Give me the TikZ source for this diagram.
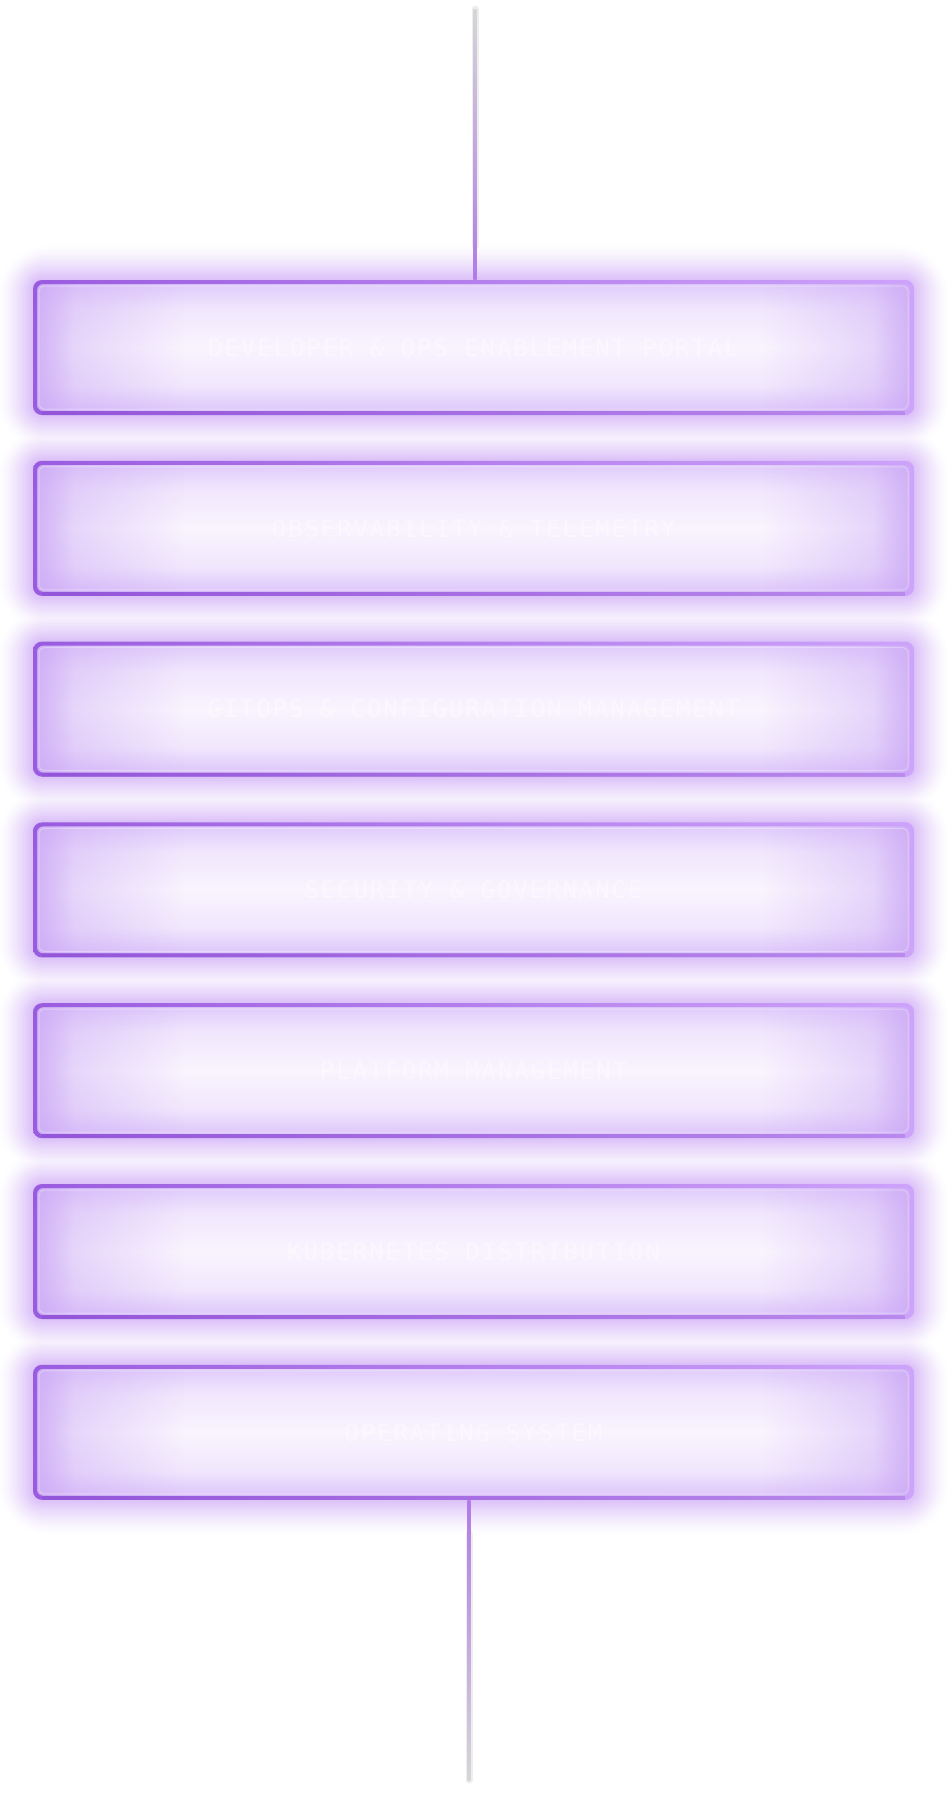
\documentclass[tikz,border=0pt]{standalone}
\usepackage{fontspec}
\newfontfamily\lblfont[LetterSpace=8]{DejaVu Sans Mono}
\usetikzlibrary{calc,fadings}
\definecolor{edgeL}{HTML}{9A5CDF}
\definecolor{edgeR}{HTML}{CEA3FA}
\definecolor{edgeB}{HTML}{7E3FC8}
\definecolor{sidec}{HTML}{CCA9F6}
\definecolor{vtop}{HTML}{DEC7FB}
\definecolor{vbot}{HTML}{DAC0FA}
\definecolor{vmid}{HTML}{F1E7FD}
\definecolor{vcen}{HTML}{F9F4FE}
\definecolor{glowc}{HTML}{B67EF2}
\definecolor{lgray}{HTML}{D6D6D6}
\definecolor{lmid}{HTML}{C29AEE}
\definecolor{lpurp}{HTML}{B17AE8}
\definecolor{halo}{HTML}{EEEEEE}
\pgfdeclareverticalshading{boxv}{100bp}{color(0bp)=(vbot); color(25bp)=(vbot); color(36bp)=(vmid); color(50bp)=(vcen); color(64bp)=(vmid); color(75bp)=(vtop); color(100bp)=(vtop)}
\tikzfading[name=fadeR, left color=transparent!0, right color=transparent!100]
\tikzfading[name=fadeL, left color=transparent!100, right color=transparent!0]
\pgfdeclarelayer{bg}
\pgfdeclarelayer{glowlayer}
\pgfdeclarelayer{linelayer}
\pgfsetlayers{bg,glowlayer,linelayer,main}
\tikzset{
  boxlabel/.style={minimum width=881pt, minimum height=135pt, inner sep=0pt,
    text=white, text opacity=0.4, font=\lblfont\fontsize{24}{28}\selectfont},
  haloline/.style={line width=7pt, color=halo, line cap=round},
}
\newcommand\glowbox[3]{%
 \begin{scope}[shift={(473.5pt,#2)}]
  \begin{scope}
   \clip[rounded corners=9pt] (-440.5pt,-67.5pt) rectangle (440.5pt,67.5pt);
   \shade[shading=boxv] (-440.5pt,-67.5pt) rectangle (440.5pt,67.5pt);
   \fill[sidec, path fading=fadeR, fill opacity=0.75] (-440.5pt,-67.5pt) rectangle (-400pt,67.5pt);
   \fill[sidec, path fading=fadeR, fill opacity=0.55] (-440.5pt,-67.5pt) rectangle (-290pt,67.5pt);
   \fill[sidec, path fading=fadeL, fill opacity=0.75] (400pt,-67.5pt) rectangle (440.5pt,67.5pt);
   \fill[sidec, path fading=fadeL, fill opacity=0.55] (290pt,-67.5pt) rectangle (440.5pt,67.5pt);
  \end{scope}
  \draw[white, opacity=0.3, line width=1pt, rounded corners=5pt] (-434.5pt,-61.5pt) rectangle (434.5pt,61.5pt);
  \shade[left color=edgeL, right color=edgeR, even odd rule, rounded corners=9pt]
    (-440.5pt,-67.5pt) rectangle (440.5pt,67.5pt)
    [rounded corners=6pt] (-436.5pt,-63.5pt) rectangle (436.5pt,63.5pt);
  \fill[edgeB, opacity=0.25] (-431.5pt,-67.5pt) rectangle (431.5pt,-63.5pt);
  \node[boxlabel] (#1) at (0,0) {#3};
 \end{scope}
}
\begin{document}
\begin{tikzpicture}
\useasboundingbox (0,0) rectangle (947pt,-1794pt);
\begin{pgfonlayer}{bg}
  \fill[white] (0,0) rectangle (947pt,-1794pt);
\end{pgfonlayer}
\begin{pgfonlayer}{glowlayer}
  \foreach \k in {27,26,...,1}{%
    \pgfmathsetmacro\gx{440.5+1.3*\k}\pgfmathsetmacro\gy{67.5+1.3*\k}\pgfmathsetmacro\gr{9+1.6*\k}%
    \pgfmathsetmacro\gp{50*(1-\k/28)^1.4}%
    \foreach \yy in {-347.5,-528.3,-709.1,-889.9,-1070.7,-1251.5,-1432.3}{%
      \fill[glowc!\gp!white, rounded corners=\gr pt] (473.5pt-\gx pt,\yy pt-\gy pt) rectangle (473.5pt+\gx pt,\yy pt+\gy pt);
    }
  }
\end{pgfonlayer}
\glowbox{b1}{-347.5pt}{DEVELOPER \& OPS ENABLEMENT PORTAL}
\glowbox{b2}{-528.3pt}{OBSERVABILITY \& TELEMETRY}
\glowbox{b3}{-709.1pt}{GITOPS \& CONFIGURATION MANAGEMENT}
\glowbox{b4}{-889.9pt}{SECURITY \& GOVERNANCE}
\glowbox{b5}{-1070.7pt}{PLATFORM MANAGEMENT}
\glowbox{b6}{-1251.5pt}{KUBERNETES DISTRIBUTION}
\glowbox{b7}{-1432.3pt}{OPERATING SYSTEM}
\coordinate (ttop) at (475pt,-9pt);
\coordinate (bbot) at (469pt,-1780pt);
\begin{pgfonlayer}{linelayer}
  \draw[haloline] (ttop) -- ($(b1.north -| ttop)+(0,34pt)$);
  \shade[top color=lgray, middle color=lmid, bottom color=lpurp]
    ($(ttop)+(-1.6pt,0)$) rectangle ($(b1.north -| ttop)+(1.6pt,0)$);
  \draw[haloline] ($(b7.south -| bbot)+(0,-34pt)$) -- (bbot);
  \shade[top color=lpurp, middle color=lmid, bottom color=lgray]
    ($(b7.south -| bbot)+(-1.6pt,0)$) rectangle ($(bbot)+(1.6pt,0)$);
\end{pgfonlayer}
\end{tikzpicture}
\end{document}
